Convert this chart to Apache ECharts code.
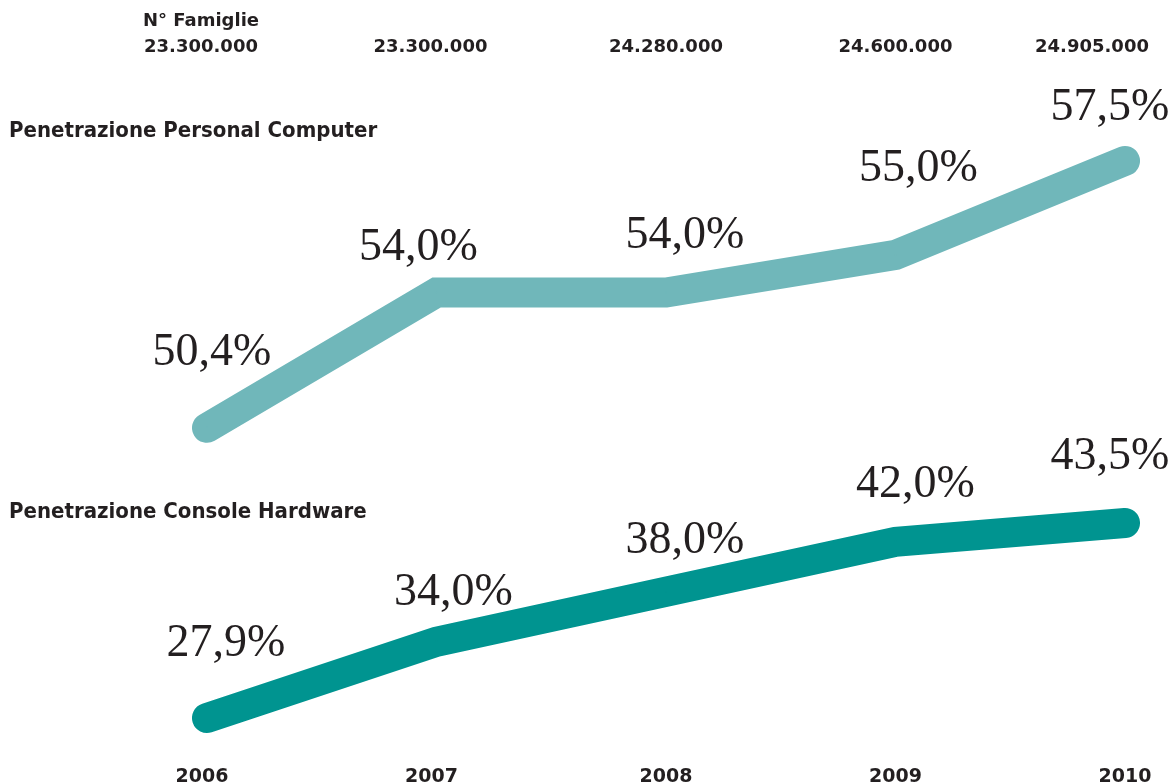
<!DOCTYPE html>
<html>
<head>
<meta charset="utf-8">
<title>Penetrazione PC e Console</title>
<script src="https://cdn.jsdelivr.net/npm/echarts@6/dist/echarts.min.js"></script>
<style>
  html, body { margin: 0; padding: 0; background: #ffffff; }
  #chart { width: 1171px; height: 783px; }
</style>
</head>
<body>
<div id="chart"></div>
<script>
// Years on the bottom axis, household counts on the top axis
const years = ['2006', '2007', '2008', '2009', '2010'];
const famiglie = ['23.300.000', '23.300.000', '24.280.000', '24.600.000', '24.905.000'];

// Penetration rates (%)
const pcPenetration = [50.4, 54.0, 54.0, 55.0, 57.5];
const consolePenetration = [27.9, 34.0, 38.0, 42.0, 43.5];

// Per-point nudges for the large value labels [dx, dy]
const pcLabelOffsets = [[5, -51], [-18, -21], [19, -33], [23, -62], [-15, -29]];
const consoleLabelOffsets = [[19, -50], [17, -25], [19, -27], [20, -33], [-15, -42]];

const INK = '#231f20';
const PC_COLOR = '#70b7ba';
const CONSOLE_COLOR = '#009490';

const fmt = v => v.toFixed(1).replace('.', ',') + '%';

function buildSeriesData(values, offsets) {
  return values.map((v, i) => ({
    value: v,
    label: { offset: offsets[i] }
  }));
}

const topLabels = famiglie.map((f, i) => {
  if (i === 0) return { value: 'N° Famiglie\n' + f, textStyle: { padding: [0, 12, 0, 0] } };
  if (i === 1) return { value: f, textStyle: { padding: [0, 12, 0, 0] } };
  if (i === famiglie.length - 1) return { value: f, textStyle: { padding: [0, 66, 0, 0] } };
  return { value: f };
});

const yearLabels = years.map((y, i) => (
  i < 2 ? { value: y, textStyle: { padding: [0, 10, 0, 0] } } : { value: y }
));

const valueLabel = {
  show: true,
  position: 'top',
  distance: 0,
  fontFamily: '"Liberation Serif", "DejaVu Serif", serif',
  fontSize: 46,
  color: INK,
  formatter: p => fmt(p.value)
};

const sectionTitle = {
  fontFamily: '"Liberation Sans Narrow", "DejaVu Sans Condensed", sans-serif',
  fontWeight: 'bold', fontSize: 22, color: INK
};

const chart = echarts.init(document.getElementById('chart'));
chart.setOption({
  animation: false,
  backgroundColor: '#ffffff',
  title: [
    { text: 'Penetrazione Personal Computer', left: 9, top: 120, padding: 0, textStyle: sectionTitle },
    { text: 'Penetrazione Console Hardware', left: 9, top: 501, padding: 0, textStyle: sectionTitle }
  ],
  grid: [
    { left: 207, right: 46, top: 67, height: 451, outerBoundsMode: 'none' },
    { left: 207, right: 46, top: 504.25, height: 250, outerBoundsMode: 'none' }
  ],
  xAxis: [
    {
      gridIndex: 0,
      type: 'category',
      position: 'top',
      boundaryGap: false,
      data: topLabels,
      axisLine: { show: false },
      axisTick: { show: false },
      splitLine: { show: false },
      axisLabel: {
        margin: 7,
        interval: 0,
        fontFamily: '"DejaVu Sans", sans-serif',
        fontWeight: 'bold',
        fontSize: 18,
        lineHeight: 26,
        color: INK
      }
    },
    {
      gridIndex: 1,
      type: 'category',
      position: 'bottom',
      boundaryGap: false,
      data: yearLabels,
      axisLine: { show: false },
      axisTick: { show: false },
      splitLine: { show: false },
      axisLabel: {
        margin: 13,
        interval: 0,
        fontFamily: '"DejaVu Sans", sans-serif',
        fontWeight: 'bold',
        fontSize: 19,
        color: INK
      }
    }
  ],
  yAxis: [
    { gridIndex: 0, type: 'value', min: 48, max: 60, show: false },
    { gridIndex: 1, type: 'value', min: 25, max: 45, show: false }
  ],
  series: [
    {
      name: 'Penetrazione Personal Computer',
      type: 'line',
      xAxisIndex: 0,
      yAxisIndex: 0,
      data: buildSeriesData(pcPenetration, pcLabelOffsets),
      symbol: 'circle',
      symbolSize: 2,
      itemStyle: { color: PC_COLOR },
      lineStyle: { color: PC_COLOR, width: 30, cap: 'round', join: 'miter' },
      label: valueLabel,
      z: 2
    },
    {
      name: 'Penetrazione Console Hardware',
      type: 'line',
      xAxisIndex: 1,
      yAxisIndex: 1,
      data: buildSeriesData(consolePenetration, consoleLabelOffsets),
      symbol: 'circle',
      symbolSize: 2,
      itemStyle: { color: CONSOLE_COLOR },
      lineStyle: { color: CONSOLE_COLOR, width: 30, cap: 'round', join: 'miter' },
      label: valueLabel,
      z: 2
    }
  ]
});
</script>
</body>
</html>
